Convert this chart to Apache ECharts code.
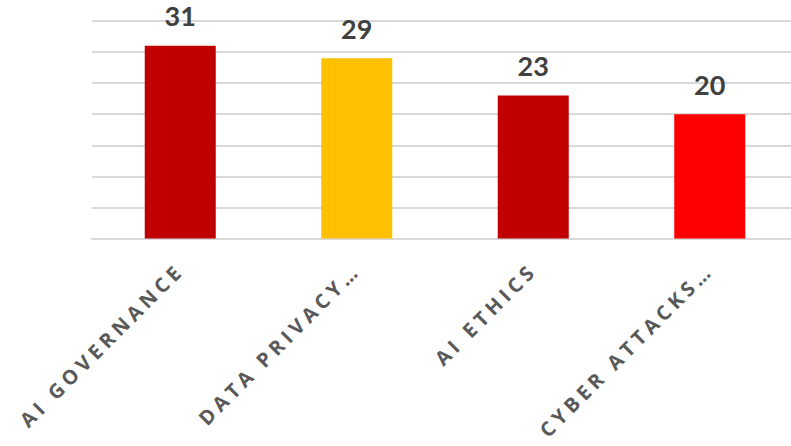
<!DOCTYPE html>
<html>
<head>
<meta charset="utf-8">
<script src="https://cdn.jsdelivr.net/npm/echarts@6/dist/echarts.min.js"></script>
<style>
  html, body { margin: 0; padding: 0; background: #ffffff; overflow: hidden; width: 791px; height: 446px; }
  #chart { width: 820px; height: 446px; }
  /* spaced-out capitals for the category names */
  #chart text[fill="#595959"] {
    font-family: "Open Sans", sans-serif !important;
    font-weight: 700 !important;
    font-size: 20px !important;
    letter-spacing: 4.5px;
  }
</style>
</head>
<body>
<div id="chart"></div>
<script>
// Topic names and counts
const categories = ['AI GOVERNANCE', 'DATA PRIVACY…', 'AI ETHICS', 'CYBER ATTACKS…'];
const counts = [31, 29, 23, 20];
const barColors = ['#C00000', '#FFC000', '#C00000', '#FF0000'];

// Value axis range (labels hidden, gridlines every 5)
const yMin = 0;
const yMax = 35;
const yStep = 5;

const chart = echarts.init(document.getElementById('chart'), null, { renderer: 'svg' });

chart.setOption({
  animation: false,
  backgroundColor: '#ffffff',
  grid: { left: 92, top: 21, width: 706, height: 217.5, containLabel: false },
  xAxis: {
    type: 'category',
    data: categories,
    axisLine: { show: true, lineStyle: { color: '#d9d9d9', width: 2 } },
    axisTick: { show: false },
    axisLabel: {
      rotate: 45,
      interval: 0,
      margin: 28,
      color: '#595959',
      fontFamily: '"Open Sans"',
      fontWeight: 'bold',
      fontSize: 20
    }
  },
  yAxis: {
    type: 'value',
    min: yMin,
    max: yMax,
    interval: yStep,
    axisLabel: { show: false },
    axisLine: { show: false },
    axisTick: { show: false },
    splitLine: { lineStyle: { color: '#d9d9d9', width: 2 } }
  },
  series: [{
    type: 'bar',
    data: counts.map((v, i) => ({ value: v, itemStyle: { color: barColors[i] } })),
    barWidth: 71,
    label: {
      show: true,
      position: 'top',
      distance: 20,
      lineHeight: 20,
      color: '#404040',
      fontFamily: 'Lato',
      fontWeight: 'bold',
      fontSize: 27
    }
  }]
});
</script>
</body>
</html>
